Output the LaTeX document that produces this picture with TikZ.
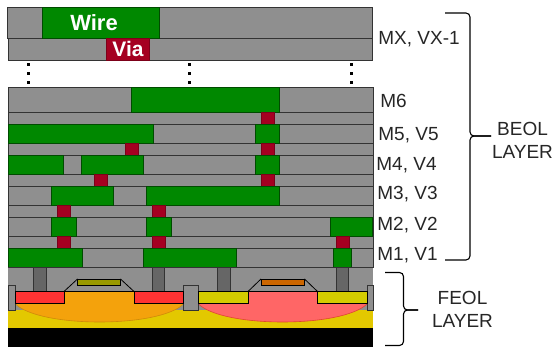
\documentclass[tikz,border=0pt]{standalone}
\usepackage{fontspec}
\setmainfont{Liberation Sans}
\usetikzlibrary{calc,positioning}
\definecolor{layergray}{HTML}{8F8F8F}
\definecolor{wiregreen}{HTML}{008800}
\definecolor{viared}{HTML}{A50021}
\definecolor{contactgray}{HTML}{666666}
\definecolor{subyellow}{HTML}{E3C800}
\definecolor{wellorange}{HTML}{F4A20C}
\definecolor{wellpink}{HTML}{FF6666}
\definecolor{welledge}{HTML}{E0452F}
\definecolor{sdred}{HTML}{FF3333}
\definecolor{sdyellow}{HTML}{D4CC00}
\definecolor{gateolive}{HTML}{999900}
\definecolor{gateorange}{HTML}{CC6600}
\begin{document}
\begin{tikzpicture}[x=1pt, y=-1pt, line width=.8pt,
  lbl/.style={font=\fontsize{19}{23}\selectfont, inner sep=0pt, align=center, text=black!85},
  tag/.style={font=\fontsize{22}{24}\selectfont\bfseries, inner sep=0pt, text=white},
  layer/.style={fill=layergray, draw=black!80},
  wire/.style={fill=wiregreen, draw=black!45!wiregreen},
  via/.style={fill=viared, draw=black!25!viared},
  brace/.style={line width=1.1pt, rounded corners=4pt, black}]
\useasboundingbox (0,0) rectangle (555,347);
%top layers
\filldraw[layer] (7.5,7) rectangle (372.5,38);
\filldraw[layer] (8,38) rectangle (372.5,60.5);
\filldraw[wire] (42.5,7) rectangle (159,38);
\node (wiretag) [tag] at (94,23) {Wire};
\filldraw[via] (106.5,38.5) rectangle node (viatag) [tag, font=\fontsize{21}{24}\selectfont\bfseries] {Via} (149.5,60);
%dots
\foreach \x in {28, 189, 351}{\foreach \y in {65, 74, 83}{\fill (\x-1.5,\y-1.5) rectangle (\x+1.5,\y+1.5);}}
%metal and via rows
\foreach \top/\bot in {87.5/112, 112/124, 124/143, 143/155, 155/174, 174/186.5, 186.5/205, 205/217.5, 217.5/236, 236/248.5, 248.5/267}{
  \filldraw[layer] (8.5,\top) rectangle (373,\bot);}
%M6
\filldraw[wire] (131.5,87.5) rectangle (279.5,112);
\filldraw[via] (261.5,112.5) rectangle (274,124);
%M5
\foreach \a/\b in {8.5/153, 255.5/279.5}{\filldraw[wire] (\a,124) rectangle (\b,143);}
\foreach \a in {125.5, 261.5}{\filldraw[via] (\a,143.5) rectangle (\a+12.5,155);}
%M4
\foreach \a/\b in {8.5/63.5, 81.5/143, 255.5/279.5}{\filldraw[wire] (\a,155) rectangle (\b,174);}
\foreach \a in {94.5, 261.5}{\filldraw[via] (\a,174.5) rectangle (\a+12.5,186.5);}
%M3
\foreach \a/\b in {51.5/113.5, 146.5/279.5}{\filldraw[wire] (\a,186.5) rectangle (\b,205);}
\foreach \a in {57.5, 152.5}{\filldraw[via] (\a,205.5) rectangle (\a+12.5,217.5);}
%M2
\foreach \a/\b in {51.5/76, 146.5/171, 330/372.5}{\filldraw[wire] (\a,217.5) rectangle (\b,236);}
\foreach \a in {57.5, 152.5, 336.5}{\filldraw[via] (\a,236.5) rectangle (\a+12.5,248.5);}
%M1
\foreach \a/\b in {8.5/82.5, 143.5/236.5, 333.5/351.5}{\filldraw[wire] (\a,248.5) rectangle (\b,267);}
%substrate
\fill[layergray] (8,267) rectangle (373,310);
\draw[black!80] (8,267) -- (373,267);
\fill[subyellow] (8,310) rectangle (373,328);
\fill[black] (8,328) rectangle (373,347);
%wells
\filldraw[fill=wellorange, draw=black!15!wellorange, line width=.6pt] (15.5,291.5) -- (183.5,291.5) -- (183.5,304) .. controls (159,328) and (40,328) .. (15.5,304) -- cycle;
\filldraw[fill=wellpink, draw=welledge, line width=.6pt] (198.5,291.5) -- (367,291.5) -- (367,304) .. controls (342,328) and (223,328) .. (198.5,304) -- cycle;
%contacts
\foreach \a in {33.5, 152, 217.5, 336}{\filldraw[fill=contactgray, draw=black!80] (\a,267) rectangle (\a+12.5,291.5);}
%isolation
\filldraw[layer] (8.5,285) rectangle (15.5,310);
\filldraw[layer] (183.5,285) rectangle (198.5,310);
\filldraw[layer] (367,285) rectangle (373,310);
%source and drain
\foreach \a/\b in {15.5/64, 134/183.5}{\filldraw[fill=sdred, draw=black] (\a,291.5) rectangle (\b,303.5);}
\foreach \a/\b in {198.5/248, 317.5/367}{\filldraw[fill=sdyellow, draw=black] (\a,291.5) rectangle (\b,303.5);}
%gates
\draw (64,291.5) -- (77.5,279) (120.5,279) -- (134,291.5);
\draw (248,291.5) -- (261,279) (304.5,279) -- (317.5,291.5);
\draw (64,291.5) -- (134,291.5) (248,291.5) -- (317.5,291.5);
\filldraw[fill=gateolive, draw=black] (77.5,279) rectangle (120.5,285.5);
\filldraw[fill=gateorange, draw=black] (261,279) rectangle (304.5,285.5);
%labels
\node (mx) [lbl, anchor=west] at (378,39) {MX, VX-1};
\node (m6) [lbl, anchor=west] at (380,101) {M6};
\node (m5) [lbl, anchor=west] at (378,135) {M5, V5};
\node (m4) [lbl, anchor=west] at (376,165) {M4, V4};
\node (m3) [lbl, anchor=west] at (377,194) {M3, V3};
\node (m2) [lbl, anchor=west] at (377,225) {M2, V2};
\node (m1) [lbl, anchor=west] at (377,255) {M1, V1};
\node (beol) [lbl] at (522.5,140.5) {BEOL\\LAYER};
\node (feol) [lbl] at (462.5,309.5) {FEOL\\LAYER};
%braces
\draw[brace] (445,13) -- (470,13) -- (470,136) -- (491,136);
\draw[brace] (445,260) -- (470,260) -- (470,136) -- (491,136);
\draw[brace] (385,272.5) -- (403.5,272.5) -- (403.5,310) -- (418,310);
\draw[brace] (385,345.5) -- (403.5,345.5) -- (403.5,310) -- (418,310);
\end{tikzpicture}
\end{document}
